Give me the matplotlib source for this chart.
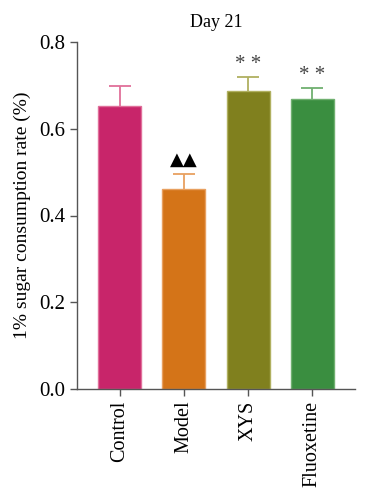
import matplotlib.pyplot as plt

# ====== Data ======
groups = ["Control", "Model", "XYS", "Fluoxetine"]
means = [0.652, 0.461, 0.687, 0.669]
errs = [0.046, 0.035, 0.032, 0.025]
colors = ["#C8256A", "#D47418", "#80801E", "#3A8E40"]
edges = ["#E0709A", "#E8A060", "#B0B060", "#70B070"]
marks = ["", "\u25B2\u25B2", "**", "**"]

plt.rcParams['font.family'] = ['Liberation Serif', 'DejaVu Serif']

fig = plt.figure(figsize=(3.68, 5), dpi=100)
ax = fig.add_axes([0.209, 0.222, 0.756, 0.694])

x = list(range(len(groups)))
ax.bar(x, means, width=0.67, color=colors, edgecolor=edges, linewidth=1, zorder=2)
for i in x:
    top = means[i] + errs[i]
    ax.vlines(i, means[i], top, color=edges[i], linewidth=1.3, zorder=1)
    ax.hlines(top, i - 0.17, i + 0.17, color=edges[i], linewidth=1.3, zorder=1)
    if marks[i] == "**":
        ax.text(i, top + 0.008, "* *", ha="center", va="bottom", fontsize=15,
                color="#444444")
    elif marks[i]:
        ax.text(i, top + 0.012, marks[i], ha="center", va="bottom", fontsize=13,
                color="black", family=['DejaVu Sans'])

ax.set_xlim(-0.67, 3.67)
ax.set_ylim(0, 0.8)
ax.set_yticks([0.0, 0.2, 0.4, 0.6, 0.8])
ax.set_yticklabels(["0.0", "0.2", "0.4", "0.6", "0.8"], fontsize=15)
ax.set_xticks(x)
ax.set_xticklabels(groups, rotation=90, fontsize=14.5)
ax.set_ylabel("1% sugar consumption rate (%)", fontsize=14, labelpad=6)
ax.set_title("Day 21", fontsize=13, pad=11)

for s in ["top", "right"]:
    ax.spines[s].set_visible(False)
for s in ["left", "bottom"]:
    ax.spines[s].set_color("#555555")
    ax.spines[s].set_linewidth(1)
ax.tick_params(direction="out", length=5, width=1, color="#555555")

fig.savefig("out.png", dpi=100)
